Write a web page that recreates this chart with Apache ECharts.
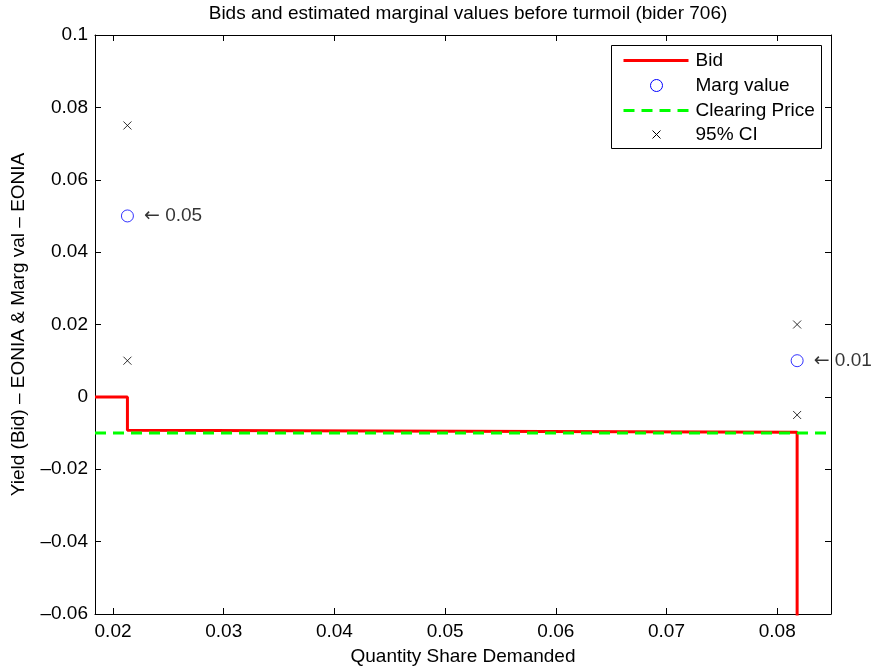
<!DOCTYPE html>
<html><head><meta charset="utf-8">
<script src="https://cdn.jsdelivr.net/npm/echarts@6/dist/echarts.min.js"></script>
<style>html,body{margin:0;padding:0;background:#fff}#c{width:880px;height:671px}</style>
</head><body><div id="c"></div>
<script>
const xRange = [0.01837, 0.08486];
const yRange = [-0.06, 0.1];
const xTicks = [0.02, 0.03, 0.04, 0.05, 0.06, 0.07, 0.08];
const yTicks = [-0.06, -0.04, -0.02, 0, 0.02, 0.04, 0.06, 0.08, 0.1];
const bidX = [0.01837, 0.0213, 0.0213, 0.0818, 0.0818];
const bidY = [0, 0, -0.0092, -0.0098, -0.075];
const clearingPrice = -0.01;
const margX = [0.0213, 0.0818];
const margY = [0.05, 0.01];
const ciX = [0.0213, 0.0213, 0.0818, 0.0818];
const ciY = [0.075, 0.01, 0.02, -0.005];
const margLabels = ['0.05', '0.01'];
const legendNames = ['Bid', 'Marg value', 'Clearing Price', '95% CI'];

const FONT = 'Liberation Sans, Arial, sans-serif';
const FS = 19;
const xCross = 'path://M0,0L10,10M10,0L0,10';

function fmtY(v) {
  const r = parseFloat(v.toFixed(3));
  if (r === 0) return '0';
  return (r < 0 ? '\u2013' : '') + String(Math.abs(r));
}
function fmtX(v) { return String(parseFloat(v.toFixed(3))); }

const axisCommon = {
  type: 'value',
  axisLine: { show: true, onZero: false, lineStyle: { color: '#000', width: 1 } },
  splitLine: { show: false },
  axisTick: { show: true, inside: true, length: 6, lineStyle: { color: '#000' } }
};

const chart = echarts.init(document.getElementById('c'), null, { renderer: 'canvas' });
chart.setOption({
  animation: false,
  backgroundColor: '#fff',
  textStyle: { fontFamily: FONT },
  title: {
    text: 'Bids and estimated marginal values before turmoil (bider 706)',
    left: 463, top: -1, textAlign: 'center',
    textStyle: { fontFamily: FONT, fontSize: FS, fontWeight: 'normal', color: '#000' }
  },
  grid: { left: 95, right: 49, top: 35, bottom: 57, containLabel: false },
  xAxis: [
    Object.assign({}, axisCommon, {
      position: 'bottom', min: xRange[0], max: xRange[1],
      axisTick: Object.assign({}, axisCommon.axisTick, { customValues: xTicks }),
      axisLabel: { customValues: xTicks, formatter: fmtX, color: '#000', fontFamily: FONT, fontSize: FS, margin: 8 },
      name: 'Quantity Share Demanded', nameLocation: 'middle', nameGap: 33,
      nameTextStyle: { fontFamily: FONT, fontSize: FS, color: '#000' }
    }),
    Object.assign({}, axisCommon, {
      position: 'top', min: xRange[0], max: xRange[1],
      axisTick: Object.assign({}, axisCommon.axisTick, { customValues: xTicks }),
      axisLabel: { show: false }
    })
  ],
  yAxis: [
    Object.assign({}, axisCommon, {
      position: 'left', min: yRange[0], max: yRange[1], interval: 0.02,
      axisLabel: { formatter: fmtY, color: '#000', fontFamily: FONT, fontSize: FS, margin: 7 },
      name: 'Yield (Bid) \u2013 EONIA & Marg val \u2013 EONIA', nameLocation: 'middle', nameGap: 67,
      nameTextStyle: { fontFamily: FONT, fontSize: FS, color: '#000' }
    }),
    Object.assign({}, axisCommon, {
      position: 'right', min: yRange[0], max: yRange[1], interval: 0.02,
      axisLabel: { show: false }
    })
  ],
  series: [
    {
      name: legendNames[0], type: 'line', symbol: 'none', z: 3,
      data: bidX.map((x, i) => [x, bidY[i]]),
      lineStyle: { color: '#ff0000', width: 3 }
    },
    {
      name: legendNames[2], type: 'line', symbol: 'none', z: 4,
      data: [[xRange[0], clearingPrice], [xRange[1], clearingPrice]],
      lineStyle: { color: '#00ff00', width: 3, type: [11, 7] }
    },
    {
      name: legendNames[1], type: 'scatter', symbol: 'circle', symbolSize: 12, z: 5,
      data: margX.map((x, i) => [x, margY[i]]),
      itemStyle: { color: 'rgba(0,0,0,0)', borderColor: '#0000ff', borderWidth: 1 },
      label: {
        show: true, position: 'right', distance: 10,
        formatter: p => '{a|\u2190} {b|' + margLabels[p.dataIndex] + '}',
        fontFamily: FONT, fontSize: FS, color: '#000',
        rich: {
          a: { fontFamily: 'DejaVu Sans', fontSize: FS, color: '#000' },
          b: { fontFamily: FONT, fontSize: FS, color: '#000' }
        }
      },
      emphasis: { disabled: true }
    },
    {
      name: legendNames[3], type: 'scatter', symbol: xCross, symbolSize: 8, z: 5,
      data: ciX.map((x, i) => [x, ciY[i]]),
      itemStyle: { color: 'none', borderColor: '#000', borderWidth: 1 },
      emphasis: { disabled: true }
    }
  ],
  graphic: [
    {
      type: 'group', left: 611, top: 45, z: 100,
      children: [
        { type: 'rect', shape: { x: 0, y: 0, width: 210, height: 103 }, style: { fill: '#fff', stroke: '#000', lineWidth: 1 } },
        { type: 'line', shape: { x1: 12, y1: 15, x2: 77, y2: 15 }, style: { stroke: '#ff0000', lineWidth: 3 } },
        { type: 'circle', shape: { cx: 45, cy: 40, r: 6 }, style: { fill: 'none', stroke: '#0000ff', lineWidth: 1 } },
        { type: 'line', shape: { x1: 12, y1: 65, x2: 77, y2: 65 }, style: { stroke: '#00ff00', lineWidth: 3, lineDash: [11, 7] } },
        { type: 'polyline', shape: { points: [[41, 85], [49, 93]] }, style: { stroke: '#000', lineWidth: 1 } },
        { type: 'polyline', shape: { points: [[49, 85], [41, 93]] }, style: { stroke: '#000', lineWidth: 1 } },
        { type: 'text', x: 84, y: 15, style: { text: legendNames[0], fontFamily: FONT, fontSize: FS, fill: '#000', textVerticalAlign: 'middle' } },
        { type: 'text', x: 84, y: 40, style: { text: legendNames[1], fontFamily: FONT, fontSize: FS, fill: '#000', textVerticalAlign: 'middle' } },
        { type: 'text', x: 84, y: 65, style: { text: legendNames[2], fontFamily: FONT, fontSize: FS, fill: '#000', textVerticalAlign: 'middle' } },
        { type: 'text', x: 84, y: 89, style: { text: legendNames[3], fontFamily: FONT, fontSize: FS, fill: '#000', textVerticalAlign: 'middle' } }
      ]
    }
  ]
});
</script>
</body></html>
